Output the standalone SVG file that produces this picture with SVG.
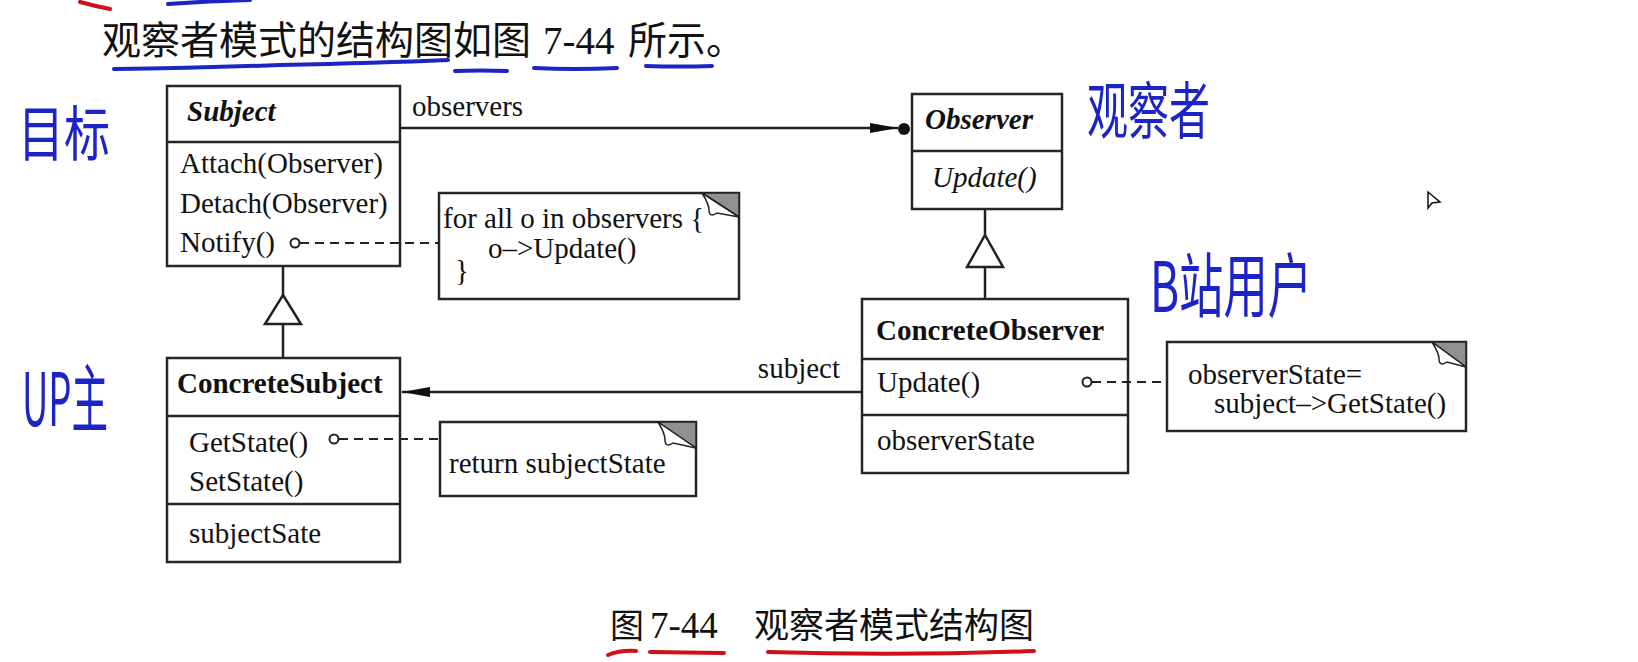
<svg xmlns="http://www.w3.org/2000/svg" width="1638" height="662" viewBox="0 0 1638 662">
<style>
.box{fill:#fff;stroke:#262626;stroke-width:2.5}
.div{stroke:#262626;stroke-width:2.5}
.t{font-family:"Liberation Serif","Times New Roman",serif;font-size:29px;fill:#111}
.b{font-weight:bold}
.i{font-style:italic}
.line{stroke:#222;stroke-width:2.5;fill:none}
.dash{stroke:#222;stroke-width:2.2;stroke-dasharray:9 6;fill:none}
.dot{fill:#fff;stroke:#222;stroke-width:2}
.tri{fill:#fff;stroke:#222;stroke-width:2.5}
.ear{fill:#909090;stroke:#222;stroke-width:1.5}
.flap{fill:#fff;stroke:#222;stroke-width:1.5}
.cjk{font-family:"Noto Sans CJK SC","Noto Sans",sans-serif;fill:#111}
.hand{font-family:"Noto Sans CJK SC",sans-serif;fill:#1c24c8}
.blu{stroke:#1c24c8;stroke-width:4;fill:none;stroke-linecap:round}
.red{stroke:#d0101a;stroke-width:4;fill:none;stroke-linecap:round}
</style>
<defs>
<marker id="arr" markerUnits="userSpaceOnUse" markerWidth="30" markerHeight="12" refX="28" refY="5" orient="auto">
<path d="M0,0 L28,5 L0,10 Z" fill="#111"/>
</marker>
</defs>
<rect width="1638" height="662" fill="#fff"/>

<g id="title">
<text class="cjk" x="102" y="54" style="font-size:39px">观察者模式的结构图如图</text>
<text class="t" x="543" y="54" style="font-size:39px">7-44</text>
<text class="cjk" x="628" y="54" style="font-size:39px">所示。</text>
</g>

<g id="caption">
<text class="cjk" x="610" y="638" style="font-size:34px">图</text>
<text class="t" x="650" y="638" style="font-size:37px">7-44</text>
<text class="cjk" x="754" y="638" style="font-size:35px">观察者模式结构图</text>
</g>

<g id="annotations">
<path class="red" d="M80,2 Q95,6 110,9"/>
<path class="blu" d="M168,4 Q210,1 250,0"/>
<path class="blu" d="M114,69 Q200,68 280,65 Q380,63 448,60"/>
<path class="blu" d="M455,71 Q480,70 507,71"/>
<path class="blu" d="M534,68 Q575,70 617,68"/>
<path class="blu" d="M646,66 Q680,67 712,66"/>
<path class="red" d="M608,655 Q620,650 636,651"/>
<path class="red" d="M650,652 L724,653"/>
<path class="red" d="M768,652 Q900,656 1034,651"/>
<text class="hand" x="18" y="156" font-size="60" textLength="92" lengthAdjust="spacingAndGlyphs">目标</text>
<text class="hand" x="1087" y="134" font-size="62" textLength="123" lengthAdjust="spacingAndGlyphs">观察者</text>
<text class="hand" x="1150" y="312" font-size="70" textLength="162" lengthAdjust="spacingAndGlyphs">B站用户</text>
<text class="hand" x="22" y="426" font-size="74" textLength="86" lengthAdjust="spacingAndGlyphs">UP主</text>
<path d="M1428,192 L1428,208 L1432,203 L1440,202 Z" fill="#fff" stroke="#111" stroke-width="1.5"/>
</g>

<g id="Subject">
<rect class="box" x="167" y="86" width="233" height="180"/>
<line class="div" x1="167" y1="142" x2="400" y2="142"/>
<text class="t b i" x="187" y="121">Subject</text>
<text class="t" x="180" y="173">Attach(Observer)</text>
<text class="t" x="180" y="213">Detach(Observer)</text>
<text class="t" x="180" y="252">Notify()</text>
</g>

<g id="ConcreteSubject">
<rect class="box" x="167" y="358" width="233" height="204"/>
<line class="div" x1="167" y1="416" x2="400" y2="416"/>
<line class="div" x1="167" y1="504" x2="400" y2="504"/>
<text class="t b" x="177" y="393">ConcreteSubject</text>
<text class="t" x="189" y="452">GetState()</text>
<text class="t" x="189" y="491">SetState()</text>
<text class="t" x="189" y="543">subjectSate</text>
</g>

<g id="Observer">
<rect class="box" x="912" y="94" width="150" height="115"/>
<line class="div" x1="912" y1="151" x2="1062" y2="151"/>
<text class="t b i" x="925" y="129">Observer</text>
<text class="t i" x="932" y="187">Update()</text>
</g>

<g id="ConcreteObserver">
<rect class="box" x="862" y="299" width="266" height="174"/>
<line class="div" x1="862" y1="359" x2="1128" y2="359"/>
<line class="div" x1="862" y1="415" x2="1128" y2="415"/>
<text class="t b" x="876" y="340">ConcreteObserver</text>
<text class="t" x="877" y="392">Update()</text>
<text class="t" x="877" y="450">observerState</text>
</g>

<g id="noteNotify">
<rect class="box" x="439" y="193" width="300" height="106"/>
<polygon class="ear" points="702,193 739,193 739,217"/>
<path class="flap" d="M702,193 C707,201 709,206 709,210 C709,216 713,216 717,213 L739,217 Z"/>
<text class="t" x="443" y="228">for all o in observers {</text>
<text class="t" x="488" y="258">o–&gt;Update()</text>
<text class="t" x="455" y="280">}</text>
</g>

<g id="noteGetState">
<rect class="box" x="440" y="422" width="256" height="74"/>
<polygon class="ear" points="658,422 696,422 696,448"/>
<path class="flap" d="M658,422 C663,430 665,435 665,440 C665,446 669,446 673,443 L696,448 Z"/>
<text class="t" x="449" y="473">return subjectState</text>
</g>

<g id="noteUpdate">
<rect class="box" x="1167" y="342" width="299" height="89"/>
<polygon class="ear" points="1432,342 1466,342 1466,367"/>
<path class="flap" d="M1432,342 C1437,350 1439,355 1439,359 C1439,365 1443,365 1447,362 L1466,367 Z"/>
<text class="t" x="1188" y="384">observerState=</text>
<text class="t" x="1214" y="413">subject–&gt;GetState()</text>
</g>

<g id="connectors">
<line class="line" x1="400" y1="128" x2="898" y2="128" marker-end="url(#arr)"/>
<circle cx="904" cy="129" r="6" fill="#111"/>
<text class="t" x="412" y="116">observers</text>
<line class="line" x1="862" y1="392" x2="402" y2="392" marker-end="url(#arr)"/>
<text class="t" x="840" y="378" text-anchor="end">subject</text>
<line class="line" x1="283" y1="266" x2="283" y2="358"/>
<polygon class="tri" points="283,295 301,324 265,324"/>
<line class="line" x1="985" y1="209" x2="985" y2="299"/>
<polygon class="tri" points="985,235 1003,267 967,267"/>
<line class="dash" x1="300" y1="243" x2="439" y2="243"/>
<circle class="dot" cx="295" cy="243" r="4.5"/>
<line class="dash" x1="339" y1="439" x2="440" y2="439"/>
<circle class="dot" cx="334" cy="439" r="4.5"/>
<line class="dash" x1="1092" y1="382" x2="1167" y2="382"/>
<circle class="dot" cx="1087" cy="382" r="4.5"/>
</g>
</svg>
